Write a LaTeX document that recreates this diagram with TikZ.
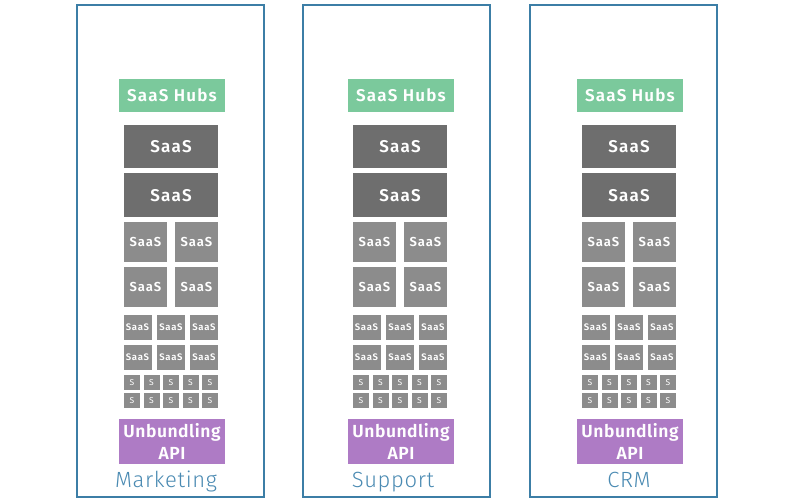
\documentclass[tikz,border=0pt]{standalone}
\usepackage{fontspec}
\setmainfont{Fira Sans}
\IfFontExistsTF{Fira Sans SemiBold}
  {\newfontfamily\boxfont{Fira Sans SemiBold}[LetterSpace=7]}
  {\IfFontExistsTF{Fira Sans Medium}
    {\newfontfamily\boxfont{Fira Sans Medium}[LetterSpace=7]}
    {\newcommand\boxfont{\bfseries\addfontfeature{LetterSpace=7}}}}
\IfFontExistsTF{Fira Sans Light}
  {\newfontfamily\lblfont{Fira Sans Light}[LetterSpace=3]}
  {\newcommand\lblfont{\mdseries}}
\definecolor{hubgreen}{HTML}{7BC99C}
\definecolor{darkg}{HTML}{6E6E6E}
\definecolor{midg}{HTML}{8C8C8C}
\definecolor{apipurple}{HTML}{AE7BC5}
\definecolor{frameblue}{HTML}{3C7EA6}
\definecolor{lblblue}{HTML}{4A8AB2}
\begin{document}
\begin{tikzpicture}[x=1pt,y=-1pt,
  blk/.style={inner sep=0pt,outer sep=0pt,text=white,align=center},
  hub/.style={blk,fill=hubgreen,minimum width=106pt,minimum height=33pt,font=\boxfont\fontsize{17}{19}\selectfont},
  big/.style={blk,fill=darkg,minimum width=94pt,minimum height=43.5pt,font=\boxfont\fontsize{17}{19}\selectfont},
  mid/.style={blk,fill=midg,minimum width=43pt,minimum height=40pt,font=\boxfont\fontsize{13}{15}\selectfont},
  sml/.style={blk,fill=midg,minimum width=28pt,minimum height=25pt,font=\boxfont\fontsize{9.5}{11}\selectfont},
  tny/.style={blk,fill=midg,minimum width=16pt,minimum height=15pt,font=\fontsize{8.5}{9}\selectfont},
  api/.style={blk,fill=apipurple,minimum width=106pt,minimum height=45pt,font=\boxfont\addfontfeature{LetterSpace=3}\fontsize{17.5}{22}\selectfont},
  colbox/.style={draw=frameblue,line width=1.6pt,inner sep=0pt,minimum width=187pt,minimum height=492pt},
  lbl/.style={text=lblblue,inner sep=0pt,anchor=base,font=\lblfont\fontsize{22}{24}\selectfont}]
\useasboundingbox (0,0) rectangle (800,500);
\foreach \c/\dx/\bx/\lx/\lab in {1/0/170.5/166/Marketing, 2/229/396.5/393/Support, 3/458/623.5/629/CRM}{
  \node[colbox] (box\c) at (\bx,251) {};
  \node[hub] (hub\c) at (172+\dx,95.5) {SaaS Hubs};
  \node[big] (bigA\c) at (171+\dx,146.5) {SaaS};
  \node[big] (bigB\c) at (171+\dx,195.2) {SaaS};
  \foreach \i/\x in {1/145.5,2/196.5}{
    \foreach \j/\y in {1/242,2/287}{
      \node[mid] (mid\c-\i-\j) at (\x+\dx,\y) {SaaS};
    }
  }
  \foreach \i/\x in {1/137.5,2/171,3/204}{
    \foreach \j/\y in {1/327.5,2/357.5}{
      \node[sml] (sml\c-\i-\j) at (\x+\dx,\y) {SaaS};
    }
  }
  \foreach \i/\x in {1/132,2/151.5,3/171,4/190.5,5/210}{
    \foreach \j/\y in {1/382.5,2/400.5}{
      \node[tny] (tny\c-\i-\j) at (\x+\dx,\y) {S};
    }
  }
  \node[api] (api\c) at (172+\dx,441.5) {Unbundling\\API};
  \node[lbl] (lbl\c) at (\lx,487.5) {\lab};
}
\end{tikzpicture}
\end{document}
